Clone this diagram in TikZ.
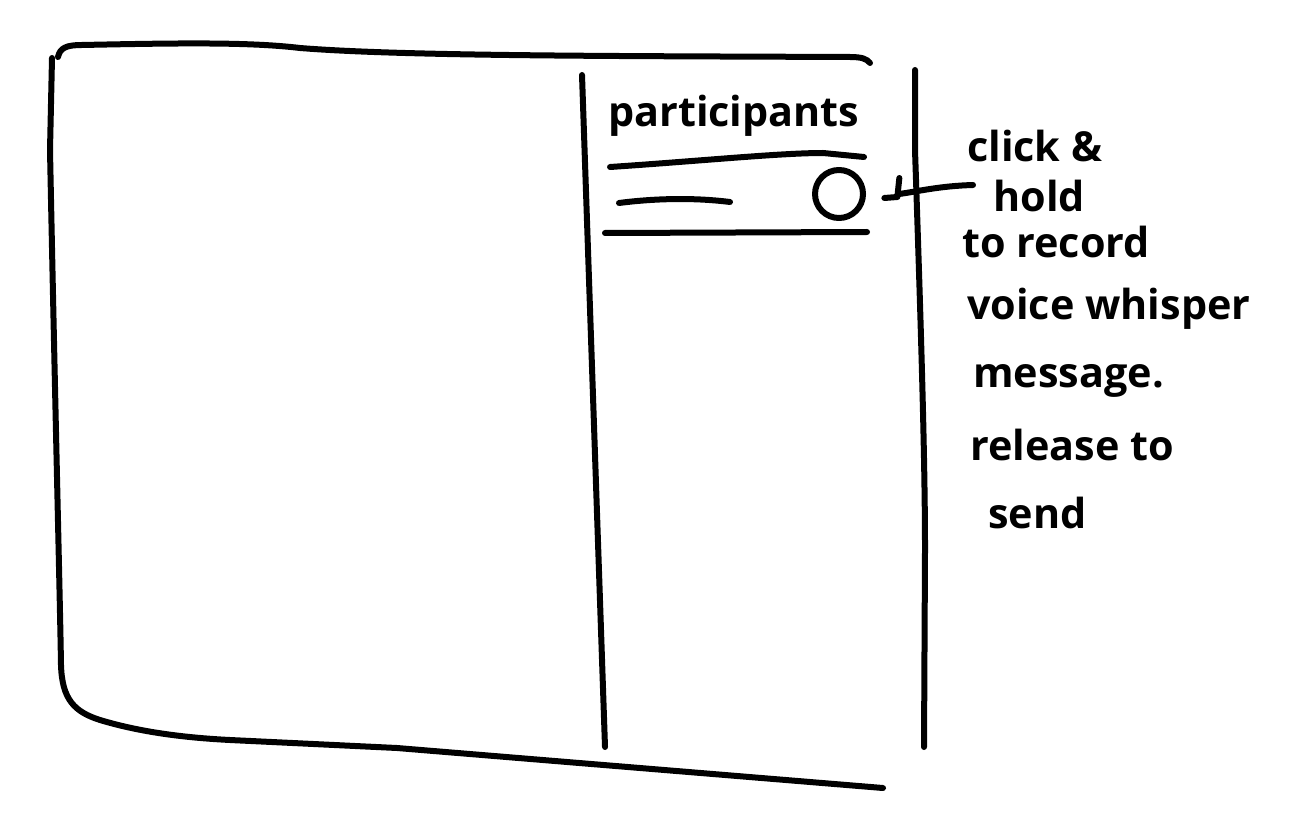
\documentclass[tikz,border=0pt]{standalone}
\usepackage{fontspec}
\setmainfont{Open Sans}
\begin{document}
\begin{tikzpicture}[x=0.75pt,y=-0.75pt,
  pen/.style={draw=black, line width=4.5pt, line cap=round, line join=round},
  hand/.style={font=\fontsize{31}{38}\selectfont\bfseries, anchor=base west, inner sep=0pt}]
\useasboundingbox[fill=white] (0,0) rectangle (1308,830);
% outer frame: top edge
\draw[pen] (58,57) .. controls (60,48) and (66,45) .. (82,45)
  .. controls (180,43) and (250,42) .. (300,48)
  .. controls (400,56) and (600,56) .. (850,57)
  .. controls (862,57) and (867,59) .. (870,63);
% outer frame: left and bottom edges
\draw[pen] (52,58) -- (50,150) .. controls (55,400) and (60,600) .. (61,665)
  .. controls (62,700) and (75,712) .. (100,720)
  .. controls (130,729) and (170,737) .. (230,740)
  -- (397,748) -- (883,788);
% panel dividers
\draw[pen] (582,75) -- (605,747);
\draw[pen] (915,70) -- (915,150) .. controls (920,300) and (925,450) .. (925,550) -- (924,747);
% participants panel
\node[hand] (title) at (608,127) {participants};
\draw[pen] (610,167) .. controls (700,161) and (780,153) .. (823,153) -- (864,157);
\draw[pen] (619,203) .. controls (650,199) and (690,197) .. (730,202);
\node[pen, circle, minimum size=36pt, inner sep=0pt] (btn) at (839,194) {};
\draw[pen] (605,233) -- (867,232);
% annotation
\node[hand] (t1) at (967,162) {click \&};
\node[hand] (t2) at (993,212) {hold};
\node[hand] (t3) at (962,258) {to record};
\node[hand] (t4) at (967,320) {voice whisper};
\node[hand] (t5) at (973,387) {message.};
\node[hand] (t6) at (970,460) {release to};
\node[hand] (t7) at (988,528) {send};
\coordinate (astart) at (973,185);
\coordinate (atip) at ([xshift=25pt]btn.east);
\draw[pen] (astart) .. controls (940,186) and (920,191) .. (atip);
\draw[pen] (atip) ++(0,-16) -- ++(-2,19) -- ++(-13,1);
\end{tikzpicture}
\end{document}
